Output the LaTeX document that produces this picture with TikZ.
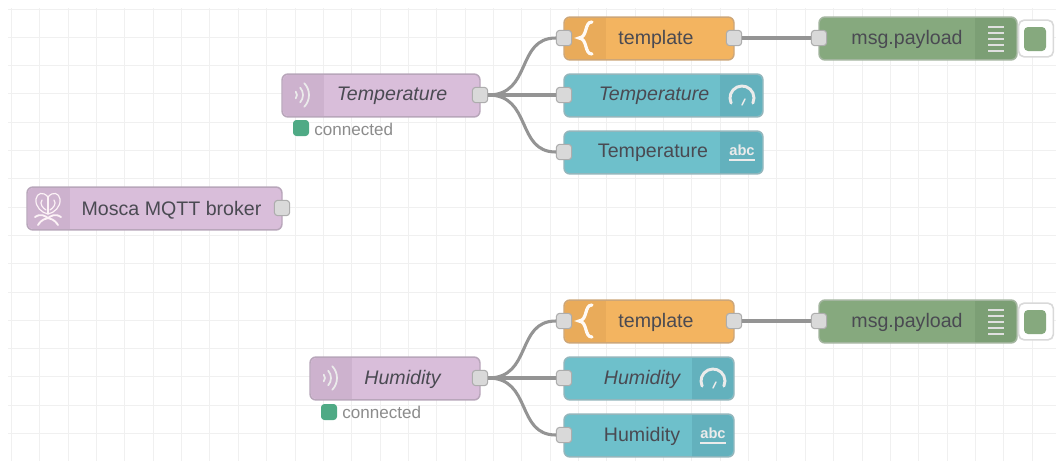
\documentclass[tikz,border=0pt]{standalone}
\usepackage{fontspec}
\setmainfont{Liberation Sans}
\definecolor{purp}{HTML}{D9BEDA}
\definecolor{purpd}{HTML}{CDB2CE}
\definecolor{purpb}{HTML}{B8A6BA}
\definecolor{oran}{HTML}{F3B460}
\definecolor{orand}{HTML}{E9AB5A}
\definecolor{oranb}{HTML}{CDA678}
\definecolor{teal1}{HTML}{6EC0CB}
\definecolor{teald}{HTML}{63B1BD}
\definecolor{tealb}{HTML}{93B6BC}
\definecolor{gree}{HTML}{86A97E}
\definecolor{greed}{HTML}{7C9F75}
\definecolor{greeb}{HTML}{A3B59F}
\definecolor{stat}{HTML}{4FAA85}
\definecolor{txt}{HTML}{4A4A52}
\tikzset{
  x=0.75pt,y=-0.75pt,
  flowbox/.style={rectangle,rounded corners=4.5pt,inner sep=0,line width=1.1pt},
  portbox/.style={rectangle,rounded corners=2.5pt,draw=black!32,fill=black!15,line width=0.8pt,minimum width=11.5pt,minimum height=11.5pt,inner sep=0},
  wire/.style={draw=black!42,line width=2.3pt},
  label/.style={inner sep=0,text=txt,font=\fontsize{14.7}{16}\selectfont},
  ilabel/.style={label,font=\fontsize{14.7}{16}\selectfont\itshape},
  status/.style={inner sep=0,text=black!45,font=\fontsize{12.8}{14}\selectfont},
  dot/.style={rectangle,rounded corners=2.5pt,fill=stat,minimum width=12pt,minimum height=12pt,inner sep=0},
  ico/.style={draw=white!92!black,line width=1.5pt,line cap=round},
}
% name, x1, x2, y1, fill, border, icon x1, icon x2, icon colour
\newcommand{\flowbox}[9]{%
  \pgfmathsetmacro{\bw}{(#3-#2)*0.75}%
  \pgfmathsetmacro{\bcx}{(#2+#3)/2}%
  \pgfmathsetmacro{\bcy}{#4+21.5}%
  \node[flowbox,fill=#5,draw=#6,minimum width=\bw pt,minimum height=32.2pt] (#1) at (\bcx,\bcy) {};
  \begin{scope}
    \clip[rounded corners=4pt] (#2+1,#4+1) rectangle (#3-1,#4+42);
    \fill[#9] (#7,#4) rectangle (#8,#4+43);
  \end{scope}
}
\newcommand{\waves}[2]{%
  \foreach \r/\a in {5/42,11/42,17/44}{
    \draw[ico,line width=1.3pt] ($(#1,#2)+(-\a:\r*0.75pt)$) arc[start angle=-\a,end angle=\a,radius=\r*0.75pt];
  }}
\newcommand{\gaugeicon}[2]{%
  \draw[ico,line width=2.2pt] ($(#1,#2)+(205:9pt)$) arc[start angle=205,end angle=-25,radius=9pt];
  \draw[ico,line width=1.1pt] (#1,#2+7) -- (#1+3,#2+1);
}
\newcommand{\abcicon}[2]{%
  \node[inner sep=0,text=white!92!black,font=\fontsize{11}{12}\selectfont\bfseries] (abc#1) at (#1,#2-1) {abc};
  \draw[white!92!black,line width=1.5pt] (#1-13,#2+9) -- (#1+13,#2+9);
}
\newcommand{\listicon}[2]{%
  \foreach \k in {-12,-6,0,6,12}{\draw[white!88!black,line width=1.4pt] (#1-8,#2+\k) -- (#1+8,#2+\k);}
}
\newcommand{\braceicon}[2]{%
  \draw[white!96!orange,line width=2.4pt,line cap=round] (#1+7,#2-16) .. controls (#1-1,#2-16) and (#1+3,#2-1) .. (#1-6,#2)
    .. controls (#1+3,#2+1) and (#1-1,#2+16) .. (#1+7,#2+16);
}
\usetikzlibrary{calc}
\begin{document}
\begin{tikzpicture}
\useasboundingbox (0,0) rectangle (1056,461);
\fill[white] (0,0) rectangle (1056,461);
% grid
\foreach \k in {0,...,36}{
  \pgfmathsetmacro{\gx}{11.5+28.35*\k}
  \draw[black!6,line width=0.7pt] (\gx,8) -- (\gx,461);
}
\foreach \k in {0,...,15}{
  \pgfmathsetmacro{\gy}{9+28.3*\k}
  \draw[black!6,line width=0.7pt] (8,\gy) -- (1056,\gy);
}
% Mosca
\flowbox{mosca}{27}{282}{187}{purp}{purpb}{27}{70}{purpd}
\node[label] (moscat) at (171.5,210) {Mosca MQTT broker};
\begin{scope}[white!95!purple,line width=0.9pt,line cap=round]
  \draw (48,197) .. controls (43,191) and (37,193) .. (36,199) .. controls (35,207) and (42,213) .. (48,214)
        .. controls (54,213) and (61,207) .. (60,199) .. controls (59,193) and (53,191) .. (48,197);
  \draw (48,197) -- (48,214);
  \draw (42,200) .. controls (39,204) and (43,208) .. (46,210);
  \draw (54,200) .. controls (57,204) and (53,208) .. (50,210);
  \draw[line width=1.4pt] (35,217) .. controls (41,213) and (45,216) .. (48,218) .. controls (51,216) and (55,213) .. (61,217);
  \draw[line width=1.4pt] (38,225) .. controls (42,219) and (45,219) .. (48,218) .. controls (51,219) and (54,219) .. (58,225);
\end{scope}
\node[portbox] (moscaout) at (282,208) {};
% Temperature group
\flowbox{tin}{282}{480}{74}{purp}{purpb}{282}{324}{purpd}
\waves{292}{95}
\node[ilabel] (tint) at (392,96) {Temperature};
\node[dot] (tdot) at (301,128) {};
\node[status,anchor=west] (tstat) at (314,129) {connected};
\node[portbox] (tinout) at (480,95) {};
\flowbox{ttpl}{564}{734}{17}{oran}{oranb}{564}{606}{orand}
\braceicon{585}{38}
\node[label] (ttplt) at (656,39) {template};
\node[portbox] (ttplin) at (564,38) {};
\node[portbox] (ttplout) at (734,38) {};
\flowbox{tgau}{564}{763}{74}{teal1}{tealb}{720}{763}{teald}
\gaugeicon{742}{98}
\node[ilabel] (tgaut) at (654,96) {Temperature};
\node[portbox] (tgauin) at (564,95) {};
\flowbox{ttxt}{564}{763}{131}{teal1}{tealb}{720}{763}{teald}
\abcicon{742}{151}
\node[label] (ttxtt) at (653,153) {Temperature};
\node[portbox] (ttxtin) at (564,152) {};
\flowbox{tdbg}{819}{1017}{17}{gree}{greeb}{975}{1017}{greed}
\listicon{996}{39}
\node[label] (tdbgt) at (907,39) {msg.payload};
\node[portbox] (tdbgin) at (819,38) {};
\node[rectangle,rounded corners=4pt,draw=black!15,fill=white,line width=1.2pt,minimum width=26pt,minimum height=27.5pt,inner sep=0] (tbtn) at (1036,38.5) {};
\node[rectangle,rounded corners=3pt,fill=gree,minimum width=16.5pt,minimum height=18pt,inner sep=0] (tbtnf) at (1035,39) {};
\draw[wire] (tinout.east) .. controls +(44,0) and +(-40,0) .. (ttplin.west);
\draw[wire] (tinout.east) -- (tgauin.west);
\draw[wire] (tinout.east) .. controls +(44,0) and +(-40,0) .. (ttxtin.west);
\draw[wire] (ttplout.east) -- (tdbgin.west);
% Humidity group
\flowbox{hin}{310}{480}{357}{purp}{purpb}{310}{352}{purpd}
\waves{320}{378}
\node[ilabel] (hint) at (402.5,379) {Humidity};
\node[dot] (hdot) at (329,412) {};
\node[status,anchor=west] (hstat) at (342,412) {connected};
\node[portbox] (hinout) at (480,378) {};
\flowbox{htpl}{564}{734}{300}{oran}{oranb}{564}{606}{orand}
\braceicon{585}{321}
\node[label] (htplt) at (656,322) {template};
\node[portbox] (htplin) at (564,321) {};
\node[portbox] (htplout) at (734,321) {};
\flowbox{hgau}{564}{734}{357}{teal1}{tealb}{692}{734}{teald}
\gaugeicon{713}{381}
\node[ilabel] (hgaut) at (642,379) {Humidity};
\node[portbox] (hgauin) at (564,378) {};
\flowbox{htxt}{564}{734}{414}{teal1}{tealb}{692}{734}{teald}
\abcicon{713}{434}
\node[label] (htxtt) at (642,436) {Humidity};
\node[portbox] (htxtin) at (564,435) {};
\flowbox{hdbg}{819}{1017}{300}{gree}{greeb}{975}{1017}{greed}
\listicon{996}{322}
\node[label] (hdbgt) at (907,322) {msg.payload};
\node[portbox] (hdbgin) at (819,321) {};
\node[rectangle,rounded corners=4pt,draw=black!15,fill=white,line width=1.2pt,minimum width=26pt,minimum height=27.5pt,inner sep=0] (hbtn) at (1036,321.5) {};
\node[rectangle,rounded corners=3pt,fill=gree,minimum width=16.5pt,minimum height=18pt,inner sep=0] (hbtnf) at (1035,322) {};
\draw[wire] (hinout.east) .. controls +(44,0) and +(-40,0) .. (htplin.west);
\draw[wire] (hinout.east) -- (hgauin.west);
\draw[wire] (hinout.east) .. controls +(44,0) and +(-40,0) .. (htxtin.west);
\draw[wire] (htplout.east) -- (hdbgin.west);
\end{tikzpicture}
\end{document}
